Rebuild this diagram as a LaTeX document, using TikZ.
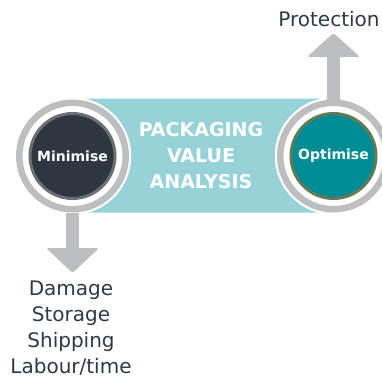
\documentclass[tikz,border=0pt]{standalone}
\usepackage{fontspec}
\setmainfont{DejaVu Sans}
\usetikzlibrary{calc}
\definecolor{bandc}{HTML}{97D2D9}
\definecolor{ringc}{HTML}{BCBEC0}
\definecolor{darkc}{HTML}{2C3742}
\definecolor{darkedge}{HTML}{6D6E71}
\definecolor{tealc}{HTML}{008C95}
\definecolor{tealedge}{HTML}{627A58}
\definecolor{txtc}{HTML}{2D3A46}
\tikzset{
  ringnode/.style={circle, draw=ringc, fill=white, line width=6.5pt, minimum size=106.5pt, inner sep=0pt,
    preaction={draw=white, line width=11pt}},
  coredark/.style={circle, fill=darkc, draw=darkedge, line width=3pt, minimum size=85pt, inner sep=0pt,
    text=white, font=\bfseries\fontsize{14}{16}\selectfont},
  coreteal/.style={circle, fill=tealc, draw=tealedge, line width=3pt, minimum size=85pt, inner sep=0pt,
    text=white, font=\bfseries\fontsize{14}{16}\selectfont},
  shaft/.style={draw=ringc, line width=13pt},
  head/.style={fill=ringc, rounded corners=2.5pt},
  label/.style={text=txtc, font=\fontsize{20}{26}\selectfont, align=center, inner sep=0pt},
  title/.style={text=white, font=\bfseries\fontsize{19}{26}\selectfont, align=center, inner sep=0pt}
}
\begin{document}
\begin{tikzpicture}[x=1pt,y=-1pt]
\useasboundingbox (0,0) rectangle (382,378);
\clip (0,0) rectangle (382,378);
% band
\fill[bandc, rounded corners=18pt] (60,98.5) rectangle (345,212.5);
% coordinates for arrow heads
\coordinate (minbase) at (72.5,248);
\coordinate (optbase) at (333.5,57);
% rings
\node[ringnode] (minring) at (72.5,156) {};
\node[ringnode] (optring) at (333.5,156) {};
% arrows
\draw[shaft] (minring.south) -- (minbase);
\fill[head] ($(minbase)+(-26.5,0)$) -- ($(minbase)+(0,25)$) -- ($(minbase)+(26.5,0)$) -- cycle;
\draw[shaft] (optring.north) -- (optbase);
\fill[head] ($(optbase)+(-26.5,0)$) -- ($(optbase)+(0,-24)$) -- ($(optbase)+(26.5,0)$) -- cycle;
% cores
\node[coredark] (min) at (minring.center) {Minimise};
\node[coreteal] (opt) at (optring.center) {Optimise};
% title
\node[title] (pva) at (201,156) {PACKAGING\\VALUE\\ANALYSIS};
% labels
\node[label] (prot) at (329,19) {Protection};
\node[label, anchor=north] (mins) at (71,281) {Damage\\Storage\\Shipping\\Labour/time};
\end{tikzpicture}
\end{document}
